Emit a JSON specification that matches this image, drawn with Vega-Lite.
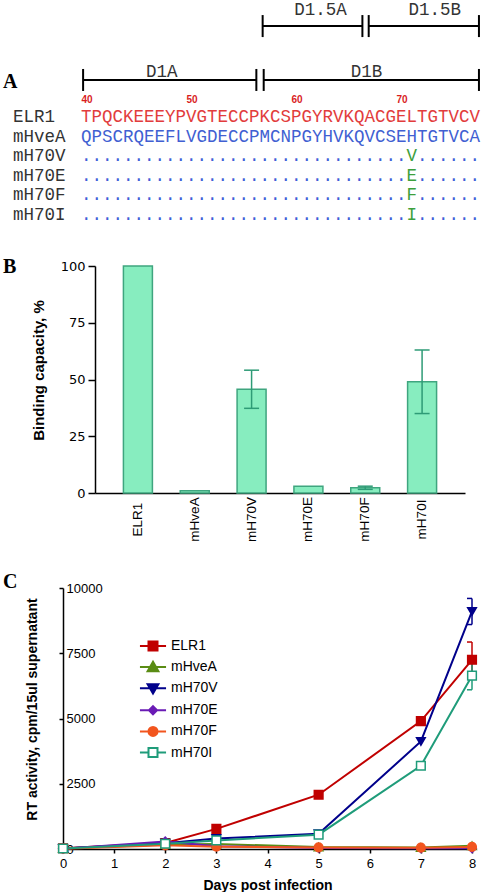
{
  "$schema": "https://vega.github.io/schema/vega-lite/v6.json",
  "background": "white",
  "padding": {"left": 3, "top": 0, "right": 0, "bottom": 0},
  "spacing": 30,
  "config": {
    "view": {"stroke": null},
    "font": "Liberation Sans",
    "axis": {"grid": false, "domainColor": "black", "tickColor": "black", "labelColor": "black", "titleColor": "black"}
  },
  "resolve": {"scale": {"color": "independent", "fill": "independent", "stroke": "independent", "shape": "independent"}},
  "vconcat": [
    {
      "width": 477,
      "height": 227,
      "title": {"text": "A", "anchor": "start", "frame": "group", "orient": "top", "offset": 0, "baseline": "middle", "dy": 102, "font": "Liberation Serif", "fontSize": 20, "fontWeight": "bold", "color": "black"},
      "layer": [
        {
          "data": {"values": [
            {"domain": "D1A", "start": 40.2, "end": 56.7, "lane": -1.89},
            {"domain": "D1B", "start": 57.4, "end": 77.9, "lane": -1.89},
            {"domain": "D1.5A", "start": 57.3, "end": 66.8, "lane": -4.64},
            {"domain": "D1.5B", "start": 67.4, "end": 77.9, "lane": -4.64}
          ]},
          "mark": {"type": "rule", "strokeWidth": 2, "color": "black"},
          "encoding": {
            "x": {"field": "start", "type": "quantitative", "scale": {"domain": [40, 78], "range": [78, 477], "nice": false, "zero": false},
              "axis": {"orient": "top", "values": [40, 50, 60, 70], "offset": -99, "domain": false, "ticks": false, "labelPadding": 0, "labelBaseline": "middle", "labelAlign": "left", "labelFlush": false, "labelColor": "#D91E1E", "labelFont": "Liberation Sans", "labelFontSize": 10, "labelFontWeight": "bold", "title": null, "grid": false}},
            "x2": {"field": "end"},
            "y": {"field": "lane", "type": "quantitative", "scale": {"domain": [-5.97, 5.612], "reverse": true, "nice": false, "zero": false}, "axis": null}
          }
        },
        {
          "data": {"values": [
            {"domain": "D1A", "start": 40.2, "end": 56.7, "lane": -1.89},
            {"domain": "D1B", "start": 57.4, "end": 77.9, "lane": -1.89},
            {"domain": "D1.5A", "start": 57.3, "end": 66.8, "lane": -4.64},
            {"domain": "D1.5B", "start": 67.4, "end": 77.9, "lane": -4.64}
          ]},
          "mark": {"type": "tick", "orient": "vertical", "size": 22, "thickness": 2, "color": "black", "opacity": 1},
          "encoding": {
            "x": {"field": "start", "type": "quantitative"},
            "y": {"field": "lane", "type": "quantitative", "axis": null}
          }
        },
        {
          "data": {"values": [
            {"domain": "D1A", "start": 40.2, "end": 56.7, "lane": -1.89},
            {"domain": "D1B", "start": 57.4, "end": 77.9, "lane": -1.89},
            {"domain": "D1.5A", "start": 57.3, "end": 66.8, "lane": -4.64},
            {"domain": "D1.5B", "start": 67.4, "end": 77.9, "lane": -4.64}
          ]},
          "mark": {"type": "tick", "orient": "vertical", "size": 22, "thickness": 2, "color": "black", "opacity": 1},
          "encoding": {
            "x": {"field": "end", "type": "quantitative"},
            "y": {"field": "lane", "type": "quantitative", "axis": null}
          }
        },
        {
          "data": {"values": [
            {"domain": "D1A", "labelPos": 47.7, "labelLane": -2.3},
            {"domain": "D1B", "labelPos": 67.2, "labelLane": -2.3},
            {"domain": "D1.5A", "labelPos": 62.8, "labelLane": -5.46},
            {"domain": "D1.5B", "labelPos": 73.7, "labelLane": -5.46}
          ]},
          "mark": {"type": "text", "font": "Liberation Mono", "fontSize": 17.5, "color": "#333333", "align": "center", "baseline": "middle"},
          "encoding": {
            "x": {"field": "labelPos", "type": "quantitative"},
            "y": {"field": "labelLane", "type": "quantitative", "axis": null},
            "text": {"field": "domain"}
          }
        },
        {
          "data": {"values": [
            {"name": "ELR1", "row": 0, "start": 40},
            {"name": "mHveA", "row": 1, "start": 40},
            {"name": "mH70V", "row": 2, "start": 40},
            {"name": "mH70E", "row": 3, "start": 40},
            {"name": "mH70F", "row": 4, "start": 40},
            {"name": "mH70I", "row": 5, "start": 40}
          ]},
          "mark": {"type": "text", "font": "Liberation Mono", "fontSize": 17.5, "color": "#333333", "align": "left", "baseline": "middle", "dx": -68},
          "encoding": {
            "x": {"field": "start", "type": "quantitative"},
            "y": {"field": "row", "type": "quantitative", "axis": null},
            "text": {"field": "name"}
          }
        },
        {
          "data": {"values": [
            {"name": "ELR1", "row": 0, "start": 40, "kind": "ELR1", "seq": "TPQCKEEEYPVGTECCPKCSPGYRVKQACGELTGTVCV"},
            {"name": "mHveA", "row": 1, "start": 40, "kind": "mHveA", "seq": "QPSCRQEEFLVGDECCPMCNPGYHVKQVCSEHTGTVCA"},
            {"name": "mH70V", "row": 2, "start": 40, "kind": "identical", "seq": "............................... ......"},
            {"name": "mH70E", "row": 3, "start": 40, "kind": "identical", "seq": "............................... ......"},
            {"name": "mH70F", "row": 4, "start": 40, "kind": "identical", "seq": "............................... ......"},
            {"name": "mH70I", "row": 5, "start": 40, "kind": "identical", "seq": "............................... ......"}
          ]},
          "mark": {"type": "text", "font": "Liberation Mono", "fontSize": 17.5, "align": "left", "baseline": "middle"},
          "encoding": {
            "x": {"field": "start", "type": "quantitative"},
            "y": {"field": "row", "type": "quantitative", "axis": null},
            "text": {"field": "seq"},
            "color": {"field": "kind", "type": "nominal", "scale": {"domain": ["ELR1", "mHveA", "identical"], "range": ["#E23C3C", "#415FD2", "#3F5FD8"]}, "legend": null}
          }
        },
        {
          "data": {"values": [
            {"name": "mH70V", "row": 2, "pos": 71, "aa": "V"},
            {"name": "mH70E", "row": 3, "pos": 71, "aa": "E"},
            {"name": "mH70F", "row": 4, "pos": 71, "aa": "F"},
            {"name": "mH70I", "row": 5, "pos": 71, "aa": "I"}
          ]},
          "mark": {"type": "text", "font": "Liberation Mono", "fontSize": 17.5, "align": "left", "baseline": "middle", "color": "#3DA03D"},
          "encoding": {
            "x": {"field": "pos", "type": "quantitative"},
            "y": {"field": "row", "type": "quantitative", "axis": null},
            "text": {"field": "aa"}
          }
        }
      ]
    },
    {
      "width": 462,
      "height": 227,
      "title": {"text": "B", "anchor": "start", "frame": "group", "orient": "top", "offset": 0, "baseline": "middle", "dy": 27, "font": "Liberation Serif", "fontSize": 20, "fontWeight": "bold", "color": "black"},
      "data": {"values": [
        {"construct": "ELR1", "binding": 100},
        {"construct": "mHveA", "binding": 1},
        {"construct": "mH70V", "binding": 45.7, "lo": 37.3, "hi": 54.1},
        {"construct": "mH70E", "binding": 3},
        {"construct": "mH70F", "binding": 2.3, "lo": 1.6, "hi": 3.0},
        {"construct": "mH70I", "binding": 49, "lo": 35, "hi": 63}
      ]},
      "layer": [
        {
          "mark": {"type": "bar", "fill": "#87EDBF", "stroke": "#3FA57F", "strokeWidth": 1.5},
          "encoding": {
            "x": {"field": "construct", "type": "nominal", "sort": null,
              "scale": {"domain": ["ELR1", "mHveA", "mH70V", "mH70E", "mH70F", "mH70I"], "range": [92, 462], "paddingInner": 0.49, "paddingOuter": 0.5},
              "axis": {"title": null, "labelAngle": 270, "labelAlign": "center", "labelBaseline": "middle", "labelPadding": 26, "ticks": false, "tickSize": 0, "domainWidth": 1.5, "labelFont": "Liberation Sans", "labelFontSize": 13.5}},
            "y": {"field": "binding", "type": "quantitative", "scale": {"domain": [0, 100], "nice": false},
              "axis": {"offset": -92, "values": [0, 25, 50, 75, 100], "tickSize": 7, "tickWidth": 1.5, "domainWidth": 1.5, "labelPadding": 3, "labelFont": "DejaVu Sans", "labelFontSize": 13, "labelFlush": false,
                "title": "Binding capacity, %", "titleFont": "Liberation Sans", "titleFontSize": 15, "titleFontWeight": "bold", "titleX": -57, "titleY": 104, "titleAlign": "center", "titleBaseline": "middle", "titleAngle": 270}}
          }
        },
        {
          "transform": [{"filter": "isValid(datum.lo)"}],
          "mark": {"type": "rule", "color": "#2E9B76", "strokeWidth": 1.5},
          "encoding": {
            "x": {"field": "construct", "type": "nominal", "sort": null},
            "y": {"field": "lo", "type": "quantitative"},
            "y2": {"field": "hi"}
          }
        },
        {
          "transform": [{"filter": "isValid(datum.lo)"}],
          "mark": {"type": "tick", "color": "#2E9B76", "size": 15, "thickness": 1.5, "opacity": 1},
          "encoding": {
            "x": {"field": "construct", "type": "nominal", "sort": null},
            "y": {"field": "lo", "type": "quantitative"}
          }
        },
        {
          "transform": [{"filter": "isValid(datum.hi)"}],
          "mark": {"type": "tick", "color": "#2E9B76", "size": 15, "thickness": 1.5, "opacity": 1},
          "encoding": {
            "x": {"field": "construct", "type": "nominal", "sort": null},
            "y": {"field": "hi", "type": "quantitative"}
          }
        }
      ]
    },
    {
      "width": 469,
      "height": 261,
      "title": {"text": "C", "anchor": "start", "frame": "group", "orient": "top", "offset": 0, "baseline": "middle", "dy": 20, "font": "Liberation Serif", "fontSize": 20, "fontWeight": "bold", "color": "black"},
      "data": {"values": [
        {"series": "ELR1", "day": 0, "rt": 30},
        {"series": "ELR1", "day": 2, "rt": 230},
        {"series": "ELR1", "day": 3, "rt": 770},
        {"series": "ELR1", "day": 5, "rt": 2080},
        {"series": "ELR1", "day": 7, "rt": 4900},
        {"series": "ELR1", "day": 8, "rt": 7250, "lo": 6570, "hi": 7930},
        {"series": "mHveA", "day": 0, "rt": 20},
        {"series": "mHveA", "day": 2, "rt": 170},
        {"series": "mHveA", "day": 3, "rt": 190},
        {"series": "mHveA", "day": 5, "rt": 80},
        {"series": "mHveA", "day": 7, "rt": 60},
        {"series": "mHveA", "day": 8, "rt": 120},
        {"series": "mH70V", "day": 0, "rt": 20},
        {"series": "mH70V", "day": 2, "rt": 220},
        {"series": "mH70V", "day": 3, "rt": 400},
        {"series": "mH70V", "day": 5, "rt": 580},
        {"series": "mH70V", "day": 7, "rt": 4120},
        {"series": "mH70V", "day": 8, "rt": 9100, "lo": 8600, "hi": 9600},
        {"series": "mH70E", "day": 0, "rt": 10},
        {"series": "mH70E", "day": 2, "rt": 290},
        {"series": "mH70E", "day": 3, "rt": 110},
        {"series": "mH70E", "day": 5, "rt": 40},
        {"series": "mH70E", "day": 7, "rt": 30},
        {"series": "mH70E", "day": 8, "rt": 30},
        {"series": "mH70F", "day": 0, "rt": 10},
        {"series": "mH70F", "day": 2, "rt": 140},
        {"series": "mH70F", "day": 3, "rt": 90},
        {"series": "mH70F", "day": 5, "rt": 60},
        {"series": "mH70F", "day": 7, "rt": 50},
        {"series": "mH70F", "day": 8, "rt": 80},
        {"series": "mH70I", "day": 0, "rt": 20},
        {"series": "mH70I", "day": 2, "rt": 200},
        {"series": "mH70I", "day": 3, "rt": 330},
        {"series": "mH70I", "day": 5, "rt": 550},
        {"series": "mH70I", "day": 7, "rt": 3190},
        {"series": "mH70I", "day": 8, "rt": 6640, "lo": 6100, "hi": 7180}
      ]},
      "resolve": {"scale": {"color": "independent", "fill": "independent", "stroke": "independent", "shape": "independent"}},
      "layer": [
        {
          "mark": {"type": "line", "strokeWidth": 2},
          "encoding": {
            "x": {"field": "day", "type": "quantitative", "scale": {"domain": [0, 8], "range": [60, 469], "nice": false, "zero": false},
              "axis": {"values": [0, 1, 2, 3, 4, 5, 6, 7, 8], "format": "d", "tickSize": 4, "tickWidth": 1.5, "domainWidth": 1.5, "labelPadding": 4, "labelFont": "Liberation Sans", "labelFontSize": 13, "labelFlush": false,
                "title": "Days post infection", "titleFont": "Liberation Sans", "titleFontSize": 14, "titleFontWeight": "bold", "titlePadding": 8}},
            "y": {"field": "rt", "type": "quantitative", "scale": {"domain": [0, 10000], "nice": false},
              "axis": {"offset": -60, "values": [0, 2500, 5000, 7500, 10000], "format": "d", "tickSize": 4, "tickWidth": 1.5, "domainWidth": 1.5, "labelAlign": "left", "labelBaseline": "middle", "labelPadding": -7, "labelFont": "Liberation Sans", "labelFontSize": 13, "labelFlush": false,
                "title": "RT activity, cpm/15ul supernatant", "titleFont": "Liberation Sans", "titleFontSize": 14, "titleFontWeight": "bold", "titleX": -31, "titleY": 121, "titleAlign": "center", "titleBaseline": "middle", "titleAngle": 270}},
            "color": {"field": "series", "type": "nominal", "scale": {"domain": ["ELR1", "mHveA", "mH70V", "mH70E", "mH70F", "mH70I"], "range": ["#C00000", "#5A8C14", "#00008B", "#6A1BB5", "#F2551E", "#1F9C7A"]}, "legend": null}
          }
        },
        {
          "transform": [{"filter": "isValid(datum.lo)"}],
          "mark": {"type": "rule", "strokeWidth": 1.5},
          "encoding": {
            "x": {"field": "day", "type": "quantitative"},
            "y": {"field": "lo", "type": "quantitative"},
            "y2": {"field": "hi"},
            "color": {"field": "series", "type": "nominal", "scale": {"domain": ["ELR1", "mHveA", "mH70V", "mH70E", "mH70F", "mH70I"], "range": ["#C00000", "#5A8C14", "#00008B", "#6A1BB5", "#F2551E", "#1F9C7A"]}, "legend": null}
          }
        },
        {
          "transform": [{"filter": "isValid(datum.lo)"}],
          "mark": {"type": "tick", "orient": "horizontal", "size": 10, "thickness": 1.5, "opacity": 1, "clip": true},
          "encoding": {
            "x": {"field": "day", "type": "quantitative"},
            "y": {"field": "lo", "type": "quantitative"},
            "color": {"field": "series", "type": "nominal", "scale": {"domain": ["ELR1", "mHveA", "mH70V", "mH70E", "mH70F", "mH70I"], "range": ["#C00000", "#5A8C14", "#00008B", "#6A1BB5", "#F2551E", "#1F9C7A"]}, "legend": null}
          }
        },
        {
          "transform": [{"filter": "isValid(datum.hi)"}],
          "mark": {"type": "tick", "orient": "horizontal", "size": 10, "thickness": 1.5, "opacity": 1, "clip": true},
          "encoding": {
            "x": {"field": "day", "type": "quantitative"},
            "y": {"field": "hi", "type": "quantitative"},
            "color": {"field": "series", "type": "nominal", "scale": {"domain": ["ELR1", "mHveA", "mH70V", "mH70E", "mH70F", "mH70I"], "range": ["#C00000", "#5A8C14", "#00008B", "#6A1BB5", "#F2551E", "#1F9C7A"]}, "legend": null}
          }
        },
        {
          "mark": {"type": "point", "filled": true, "opacity": 1, "strokeWidth": 1.5, "size": 75},
          "encoding": {
            "x": {"field": "day", "type": "quantitative"},
            "y": {"field": "rt", "type": "quantitative"},
            "shape": {"field": "series", "type": "nominal", "scale": {"domain": ["ELR1", "mHveA", "mH70V", "mH70E", "mH70F", "mH70I"], "range": ["square", "triangle-up", "triangle-down", "diamond", "circle", "square"]}, "legend": null},
            "fill": {"field": "series", "type": "nominal", "scale": {"domain": ["ELR1", "mHveA", "mH70V", "mH70E", "mH70F", "mH70I"], "range": ["#C00000", "#5A8C14", "#00008B", "#6A1BB5", "#F2551E", "#FFFFFF"]}, "legend": null},
            "stroke": {"field": "series", "type": "nominal", "scale": {"domain": ["ELR1", "mHveA", "mH70V", "mH70E", "mH70F", "mH70I"], "range": ["#C00000", "#5A8C14", "#00008B", "#6A1BB5", "#F2551E", "#1F9C7A"]}, "legend": null}
          }
        },
        {
          "transform": [{"filter": "datum.day > 100"}],
          "mark": {"type": "point", "filled": true, "opacity": 1, "strokeWidth": 2},
          "encoding": {
            "x": {"field": "day", "type": "quantitative"},
            "y": {"field": "rt", "type": "quantitative"},
            "fill": {"field": "series", "type": "nominal",
              "scale": {"domain": ["ELR1", "mHveA", "mH70V", "mH70E", "mH70F", "mH70I"], "range": ["#C00000", "#5A8C14", "#00008B", "#6A1BB5", "#F2551E", "#FFFFFF"]},
              "legend": {"orient": "none", "legendX": 140, "legendY": 48, "title": null, "labelFont": "Liberation Sans", "labelFontSize": 14, "labelColor": "black", "symbolSize": 324, "labelOffset": 8, "rowPadding": 2.1, "symbolStrokeWidth": 2, "symbolFillColor": "white", "symbolStrokeColor": "black", "symbolOpacity": 1}},
            "stroke": {"field": "series", "type": "nominal",
              "scale": {"domain": ["ELR1", "mHveA", "mH70V", "mH70E", "mH70F", "mH70I"], "range": ["#C00000", "#5A8C14", "#00008B", "#6A1BB5", "#F2551E", "#1F9C7A"]},
              "legend": {"orient": "none", "legendX": 140, "legendY": 48, "title": null, "labelFont": "Liberation Sans", "labelFontSize": 14, "labelColor": "black", "symbolSize": 324, "labelOffset": 8, "rowPadding": 2.1, "symbolStrokeWidth": 2, "symbolFillColor": "white", "symbolStrokeColor": "black", "symbolOpacity": 1}},
            "shape": {"field": "series", "type": "nominal",
              "scale": {"domain": ["ELR1", "mHveA", "mH70V", "mH70E", "mH70F", "mH70I"],
                "range": [
                  "M-1.45,0H1.45M-0.5,-0.5H0.5V0.5H-0.5Z",
                  "M-1.45,0H1.45M0,-0.6L0.6,0.45H-0.6Z",
                  "M-1.45,0H1.45M0,0.6L0.6,-0.45H-0.6Z",
                  "M-1.45,0H1.45M0,-0.45L0.45,0L0,0.45L-0.45,0Z",
                  "M-1.45,0H1.45M-0.5,0A0.5,0.5,0,1,0,0.5,0A0.5,0.5,0,1,0,-0.5,0Z",
                  "M-1.45,0H-0.5M0.5,0H1.45M-0.5,-0.5H0.5V0.5H-0.5Z"
                ]},
              "legend": {"orient": "none", "legendX": 140, "legendY": 48, "title": null, "labelFont": "Liberation Sans", "labelFontSize": 14, "labelColor": "black", "symbolSize": 324, "labelOffset": 8, "rowPadding": 2.1, "symbolStrokeWidth": 2, "symbolFillColor": "white", "symbolStrokeColor": "black", "symbolOpacity": 1}}
          }
        }
      ]
    }
  ]
}
